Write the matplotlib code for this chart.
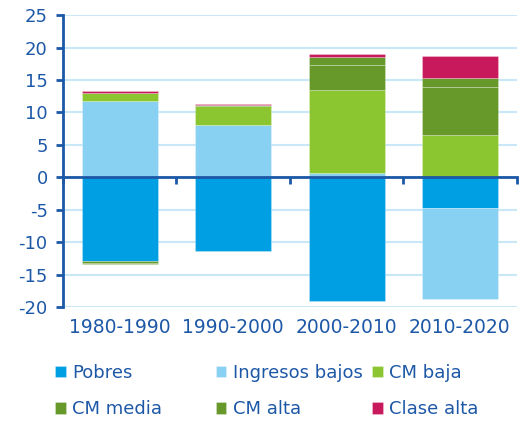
import numpy as np
import matplotlib.pyplot as plt

periodos = ['1980-1990', '1990-2000', '2000-2010', '2010-2020']
series = ['Pobres', 'Ingresos bajos', 'CM baja', 'CM media', 'CM alta', 'Clase alta']
pobres = [-12.95, -11.3, -19.0, -4.75]
ingresos_bajos = [11.7, 8.1, 0.6, -13.95]
cm_baja = [1.3, 2.9, 12.9, 6.55]
cm_media = [-0.2, 0.1, 3.85, 7.35]
cm_alta = [-0.15, 0.05, 1.2, 1.35]
clase_alta = [0.25, 0.15, 0.45, 3.4]
valores = [pobres, ingresos_bajos, cm_baja, cm_media, cm_alta, clase_alta]
colores = ['#009fe3', '#89d1f3', '#8bc631', '#67982a', '#67982a', '#c8195d']

azul = '#1d58a7'
plt.rcParams['font.family'] = ['DejaVu Sans']
plt.rcParams['axes.unicode_minus'] = False

fig = plt.figure(figsize=(5.22, 4.21), dpi=100)
ax = fig.add_axes([0.1207, 0.2708, 0.869, 0.6932])

x = np.arange(len(periodos))
pos = np.zeros(len(periodos))
neg = np.zeros(len(periodos))
barras = []
for nombre, v, c in zip(series, valores, colores):
    v = np.array(v)
    base = np.where(v >= 0, pos, neg)
    b = ax.bar(x, v, 0.67, bottom=base, color=c, label=nombre,
               edgecolor=(1, 1, 1, 0.3), linewidth=0.6, zorder=2)
    barras.append(b)
    pos += np.where(v >= 0, v, 0)
    neg += np.where(v < 0, v, 0)

ax.set_xlim(-0.5, 3.5)
ax.set_ylim(-20, 25)
ax.set_yticks(range(-20, 26, 5))
ax.yaxis.grid(True, color='#c8e8f8', linewidth=1.5, zorder=0)
ax.set_axisbelow(True)
for s in ['top', 'right']:
    ax.spines[s].set_visible(False)
ax.spines['left'].set_color(azul)
ax.spines['left'].set_linewidth(2)
ax.spines['bottom'].set_position(('data', 0))
ax.spines['bottom'].set_color(azul)
ax.spines['bottom'].set_linewidth(2)
ax.spines['bottom'].set_zorder(3)
ax.set_xticks(np.arange(-0.5, 4, 1))
ax.tick_params(axis='x', length=5, width=2, color=azul, labelbottom=False)
ax.tick_params(axis='y', length=5, width=2, color=azul, labelcolor=azul,
               labelsize=13, pad=6)

sec = ax.secondary_xaxis('bottom')
sec.set_xticks(x, periodos)
sec.tick_params(length=0, labelcolor=azul, labelsize=13.5, pad=8)
sec.spines['bottom'].set_visible(False)

columnas = [(0.105, [0, 3]), (0.413, [1, 4]), (0.713, [2, 5])]
for xa, idx in columnas:
    leg = fig.legend([barras[i] for i in idx], [series[i] for i in idx],
                     loc='upper left', bbox_to_anchor=(xa, 0.136), frameon=False,
                     fontsize=13, handlelength=0.6, handleheight=0.6,
                     handletextpad=0.35, labelspacing=1.03, borderaxespad=0,
                     borderpad=0, labelcolor=azul)

fig.savefig('out.png', dpi=100)
